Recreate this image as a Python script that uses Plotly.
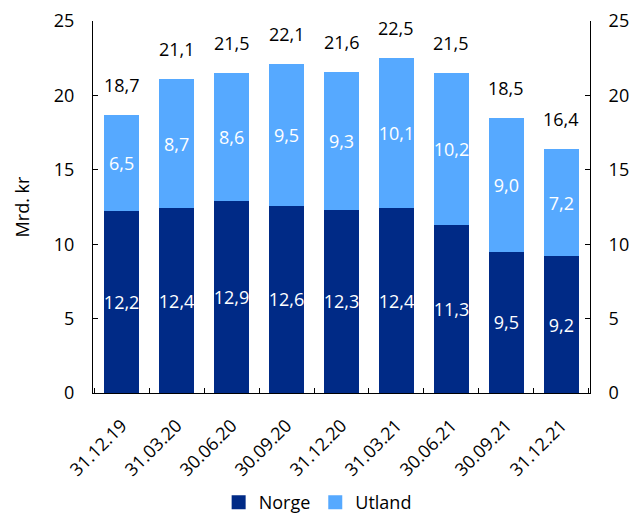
import plotly.graph_objects as go

# Quarter-end dates and holdings (billion NOK) split by region
dates = ["31.12.19", "31.03.20", "30.06.20", "30.09.20", "31.12.20",
         "31.03.21", "30.06.21", "30.09.21", "31.12.21"]
norge = [12.2, 12.4, 12.9, 12.6, 12.3, 12.4, 11.3, 9.5, 9.2]
utland = [6.5, 8.7, 8.6, 9.5, 9.3, 10.1, 10.2, 9.0, 7.2]
totals = [18.7, 21.1, 21.5, 22.1, 21.6, 22.5, 21.5, 18.5, 16.4]

NAVY = "#002A86"
LIGHT = "#56A9FF"
FONT = "Open Sans"
FS = 18


def fmt(v):
    return f"{v:.1f}".replace(".", ",")


fig = go.Figure()
for name, vals, col in (("Norge", norge, NAVY), ("Utland", utland, LIGHT)):
    fig.add_trace(go.Bar(
        x=dates, y=vals, name=name, marker_color=col, marker_line_width=0,
        text=[fmt(v) for v in vals], textposition="inside",
        insidetextanchor="middle", textangle=0, showlegend=False,
        constraintext="none", cliponaxis=False,
        textfont=dict(color="white", size=FS, family=FONT),
    ))
    # square legend swatch
    fig.add_trace(go.Scatter(
        x=[None], y=[None], name=name, mode="markers",
        marker=dict(symbol="square", size=14, color=col),
    ))

# invisible trace so the right-hand axis is drawn
fig.add_trace(go.Scatter(
    x=dates, y=totals, yaxis="y2", mode="markers",
    marker=dict(opacity=0), showlegend=False, hoverinfo="skip",
))

for d, t in zip(dates, totals):
    fig.add_annotation(
        x=d, y=t, text=fmt(t), showarrow=False, yanchor="middle",
        yshift=30, font=dict(size=FS, color="black", family=FONT),
    )

axis_common = dict(
    range=[0, 25], dtick=5, showline=True, linecolor="black", linewidth=1,
    ticks="inside", ticklen=5, tickcolor="black", showgrid=False,
    zeroline=False, automargin=False, ticklabelstandoff=14,
    tickfont=dict(size=FS, color="black", family=FONT),
)

fig.update_layout(
    width=644, height=514,
    margin=dict(l=93, r=54, t=21, b=121, autoexpand=False),
    plot_bgcolor="white", paper_bgcolor="white",
    barmode="stack", bargap=0.35,
    uniformtext=dict(minsize=FS, mode="show"),
    font=dict(family=FONT, size=FS, color="black"),
    xaxis=dict(
        showline=True, linecolor="black", linewidth=1, automargin=False,
        ticks="inside", ticklen=5, tickcolor="black", tickson="boundaries",
        tickangle=-45, tickfont=dict(size=FS, color="black", family=FONT),
        showgrid=False, ticklabelstandoff=14,
    ),
    yaxis=dict(
        title=dict(text="Mrd. kr", font=dict(size=FS, family=FONT), standoff=19),
        **axis_common,
    ),
    yaxis2=dict(overlaying="y", side="right", anchor="x", **axis_common),
    legend=dict(
        orientation="h", x=0.452, xanchor="center", y=-0.344, yanchor="bottom",
        font=dict(size=FS, family=FONT), traceorder="normal",
        itemwidth=30, tracegroupgap=0,
    ),
    showlegend=True,
)

fig.write_html("out.html")
